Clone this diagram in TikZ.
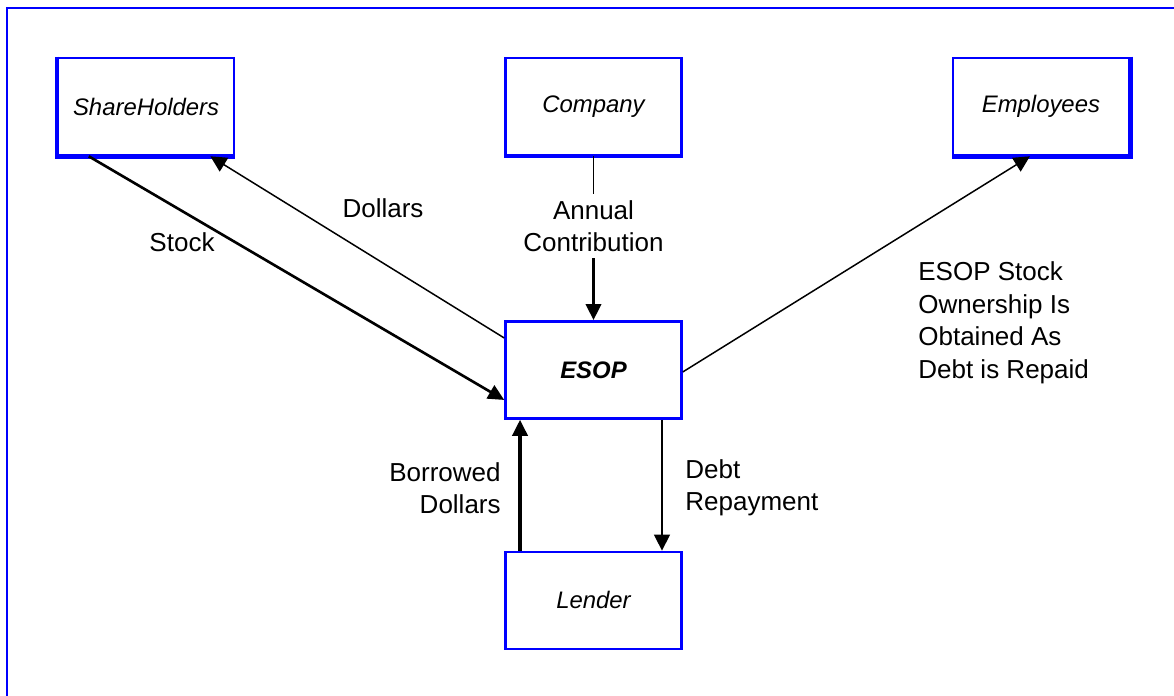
\documentclass[tikz,border=0pt]{standalone}
\usepackage{fontspec}
\setmainfont{Liberation Sans}
\usetikzlibrary{arrows.meta}
\definecolor{esopblue}{RGB}{0,0,255}

\tikzset{
  box/.style={draw=esopblue, line width=1.5pt, rectangle, minimum width=3.52cm, minimum height=1.94cm, font=\fontsize{13.6}{16}\selectfont\itshape},
  lbl/.style={font=\fontsize{14.8}{18.5}\selectfont, inner sep=0pt},
  flowthin/.style={line width=0.85pt, -{Triangle[length=0.32cm,width=0.32cm]}},
  flowthick/.style={line width=2pt, -{Triangle[length=0.32cm,width=0.3cm]}},
}

\begin{document}
\begin{tikzpicture}[x=0.02cm, y=-0.02cm, node distance=8.95cm]
            \useasboundingbox (0,0) rectangle (1174,696);
            \clip (0,0) rectangle (1174,696);
            \draw[esopblue, line width=1pt] (7,7.8) rectangle (1200,720);

            \node[box] (Company) at (593.5,106.5) {Company};
            \node[box, left of=Company] (Holders) {ShareHolders};
            \node[box, right of=Company] (Employees) {Employees};
            \node[box, below of=Company, yshift=3.68cm] (ESOP) {\bfseries ESOP};
            \node[box, below of=ESOP, yshift=4.34cm] (Lender) {Lender};

            % heavier shadow edges
            \draw[esopblue, line width=2.6pt] (Holders.north west) -- (Holders.south west) -- (Holders.south east);
            \draw[esopblue, line width=2.6pt] (Employees.north east) -- (Employees.south east) -- (Employees.south west);
            \draw[esopblue, line width=2pt] (Company.south west) -- (Company.south east);

            \node[lbl] (Dollars) at (383,208) {Dollars};
            \node[lbl] (Stock) at (182,242) {Stock};
            \node[lbl, align=center, inner sep=3.5pt] (Annual) at (593.5,226) {Annual\\Contribution};
            \node[lbl, align=left, anchor=west] (Owner) at (918,323) {ESOP Stock\\Ownership Is\\Obtained As\\Debt is Repaid};
            \node[lbl, align=right, anchor=east] (Borrowed) at (501,488) {Borrowed\\Dollars};
            \node[lbl, align=left, anchor=west] (Repay) at (685,488) {Debt\\Repayment};

            \draw[flowthick, line width=1.5pt] ([xshift=0.64cm]Holders.south west) -- ([yshift=-0.6cm]ESOP.west);
            \draw[flowthin] ([yshift=0.64cm]ESOP.west) -- ([xshift=-0.5cm]Holders.south east);
            \draw[line width=0.85pt] (Company.south) -- (Annual.north);
            \draw[flowthick] (Annual.south) -- (ESOP.north);
            \draw[flowthin] ([yshift=-0.04cm]ESOP.east) -- ([xshift=-0.22cm]Employees.south);
            \draw[flowthick] ([xshift=-1.47cm]Lender.north) -- ([xshift=-1.47cm]ESOP.south);
            \draw[flowthin] ([xshift=1.37cm]ESOP.south) -- ([xshift=1.37cm]Lender.north);
        \end{tikzpicture}
\end{document}
